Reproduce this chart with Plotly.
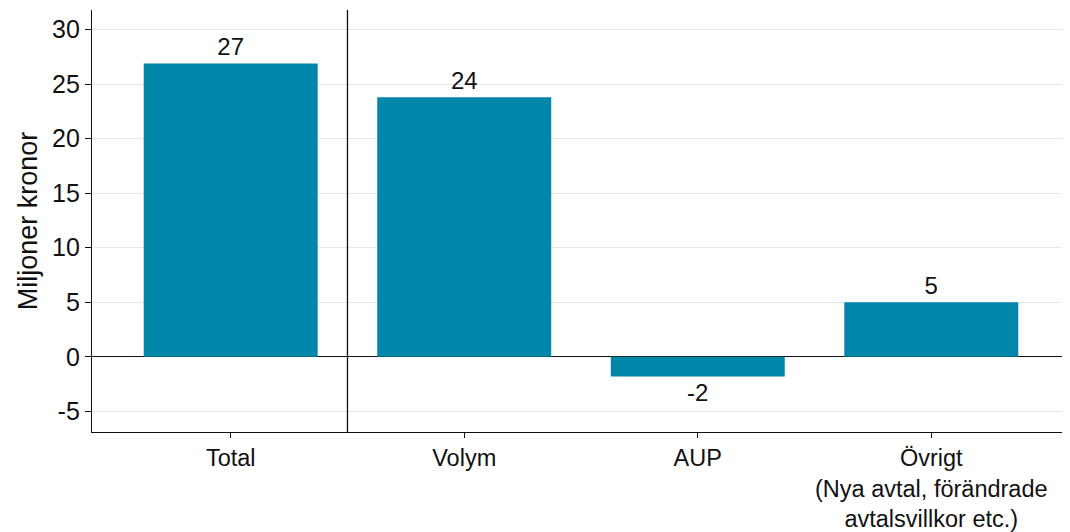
import plotly.graph_objects as go

categories = ["Total", "Volym", "AUP", "Övrigt<br>(Nya avtal, förändrade<br>avtalsvillkor etc.)"]
values = [26.9, 23.8, -1.8, 5.0]
y_ticks = [-5, 0, 5, 10, 15, 20, 25, 30]
y_ticktext = ["-5", "0", "5", "10", "15", "20", "25", "30"]
y_title = "Miljoner kronor"

BAR = "#0287AB"
FONT = "Liberation Sans, Arial, sans-serif"
INK = "#111111"

fig = go.Figure()
fig.add_trace(go.Bar(
    x=list(range(len(categories))),
    y=values,
    marker=dict(color=BAR, line=dict(width=0)),
    width=0.745,
    text=[f"{v:.0f}" for v in values],
    textposition="outside",
    textfont=dict(size=24, color=INK, family=FONT),
    cliponaxis=False,
))

fig.add_shape(type="line", xref="x", yref="paper", x0=0.5, x1=0.5, y0=0, y1=1,
              line=dict(color=INK, width=1.3))

# page body has an 8px margin, so the figure is sized to fit the 1070x532 window
fig.update_layout(
    width=1062, height=524,
    margin=dict(l=84, r=0, t=2, b=100),
    plot_bgcolor="white", paper_bgcolor="white",
    showlegend=False,
    font=dict(family=FONT, color=INK),
)
fig.update_xaxes(
    range=[-0.594, 3.594], automargin=False,
    tickmode="array", tickvals=list(range(len(categories))), ticktext=categories,
    ticks="outside", ticklen=5, tickcolor=INK,
    showline=True, linecolor=INK, linewidth=1.3,
    showgrid=False, zeroline=False,
    tickfont=dict(size=23.5, family=FONT, color=INK),
)
fig.update_yaxes(
    range=[-6.9, 31.8], automargin=False,
    tickmode="array", tickvals=y_ticks, ticktext=y_ticktext,
    ticks="outside", ticklen=6, tickcolor=INK,
    showline=True, linecolor=INK, linewidth=1.3,
    showgrid=True, gridcolor="#E8E8E8", gridwidth=1,
    zeroline=True, zerolinecolor=INK, zerolinewidth=1.3,
    tickfont=dict(size=25, family=FONT, color=INK),
    title=dict(text=y_title, font=dict(size=27, family=FONT, color=INK), standoff=6),
)

fig.write_html("out.html")
